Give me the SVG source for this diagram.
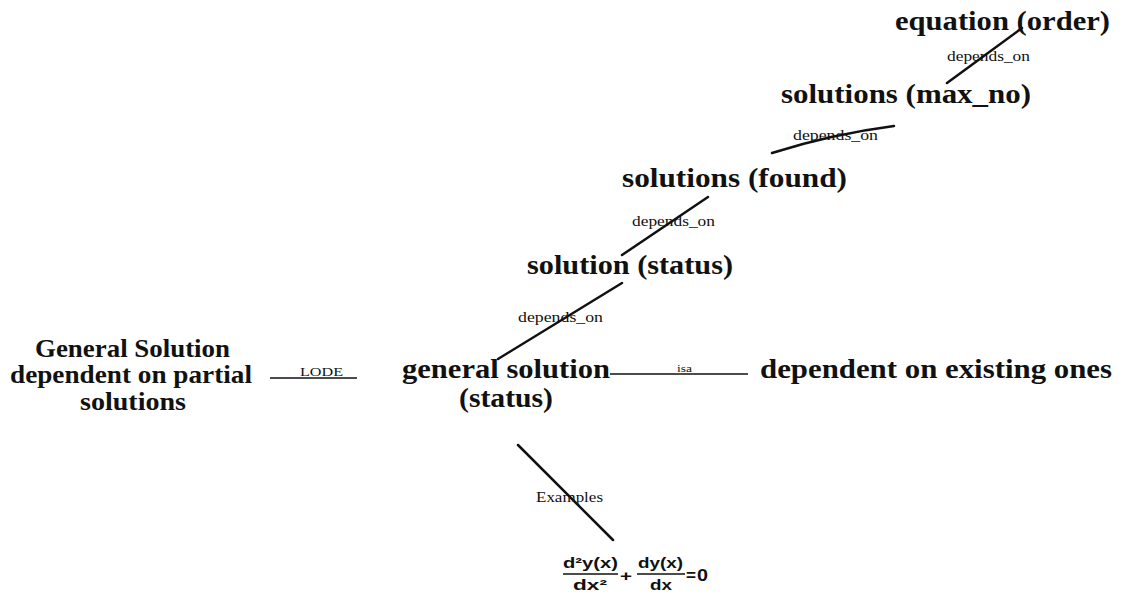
<svg xmlns="http://www.w3.org/2000/svg" width="1121" height="596" viewBox="0 0 1121 596">
<style>
.node{font-family:"Liberation Serif","Times New Roman",serif;font-weight:bold;font-size:27px;fill:#111}
.left{font-size:25px}
.lbl{font-family:"Liberation Serif","Times New Roman",serif;font-size:15px;fill:#111}
.edge{stroke:#111;stroke-width:2.5;fill:none;stroke-linecap:round}
.thin{stroke:#111;stroke-width:1.6;fill:none}
.math{font-family:"Liberation Sans",Arial,sans-serif;font-weight:bold;font-size:15px;fill:#111}
</style>
<rect width="1121" height="596" fill="#fff"/>
<g id="connectors">
  <line class="edge" x1="1022" y1="28" x2="947" y2="83"/>
  <text class="lbl" x="947" y="61" textLength="83" lengthAdjust="spacingAndGlyphs">depends_on</text>
  <path class="edge" d="M772 153 Q832 134 894 126"/>
  <text class="lbl" x="793" y="140" textLength="85" lengthAdjust="spacingAndGlyphs">depends_on</text>
  <line class="edge" x1="708" y1="197" x2="622" y2="255"/>
  <text class="lbl" x="632" y="226" textLength="83" lengthAdjust="spacingAndGlyphs">depends_on</text>
  <line class="edge" x1="622" y1="283" x2="498" y2="359"/>
  <text class="lbl" x="518" y="322" textLength="85" lengthAdjust="spacingAndGlyphs">depends_on</text>
  <line class="thin" x1="270" y1="378" x2="357" y2="378"/>
  <text class="lbl" x="300" y="376" style="font-size:12px" textLength="43" lengthAdjust="spacingAndGlyphs">LODE</text>
  <line class="thin" x1="610" y1="374" x2="748" y2="374"/>
  <text class="lbl" x="677" y="372" style="font-size:11px" textLength="15" lengthAdjust="spacingAndGlyphs">isa</text>
  <line class="edge" x1="518" y1="445" x2="613" y2="540"/>
  <text class="lbl" x="536" y="502" textLength="67" lengthAdjust="spacingAndGlyphs">Examples</text>
</g>
<g id="node-equation-order">
  <text class="node" x="895" y="30" textLength="215" lengthAdjust="spacingAndGlyphs">equation (order)</text>
</g>
<g id="node-solutions-max-no">
  <text class="node" x="781" y="103" textLength="250" lengthAdjust="spacingAndGlyphs">solutions (max_no)</text>
</g>
<g id="node-solutions-found">
  <text class="node" x="622" y="187" textLength="225" lengthAdjust="spacingAndGlyphs">solutions (found)</text>
</g>
<g id="node-solution-status">
  <text class="node" x="527" y="274" textLength="206" lengthAdjust="spacingAndGlyphs">solution (status)</text>
</g>
<g id="node-general-solution-status">
  <text class="node" x="402" y="378" textLength="208" lengthAdjust="spacingAndGlyphs">general solution</text>
  <text class="node" x="459" y="407" textLength="94" lengthAdjust="spacingAndGlyphs">(status)</text>
</g>
<g id="node-dependent-existing">
  <text class="node" x="760" y="378" textLength="352" lengthAdjust="spacingAndGlyphs">dependent on existing ones</text>
</g>
<g id="node-general-solution-partial">
  <text class="node left" x="35" y="357" textLength="195" lengthAdjust="spacingAndGlyphs">General Solution</text>
  <text class="node left" x="10" y="383" textLength="242" lengthAdjust="spacingAndGlyphs">dependent on partial</text>
  <text class="node left" x="80" y="410" textLength="106" lengthAdjust="spacingAndGlyphs">solutions</text>
</g>
<g id="node-example-equation">
  <text class="math" x="563" y="568" textLength="55" lengthAdjust="spacingAndGlyphs">d²y(x)</text>
  <line class="thin" x1="563" y1="574" x2="618" y2="574"/>
  <text class="math" x="573" y="590" textLength="34" lengthAdjust="spacingAndGlyphs">dx²</text>
  <text class="math" x="620" y="581" textLength="12" lengthAdjust="spacingAndGlyphs">+</text>
  <text class="math" x="638" y="568" textLength="45" lengthAdjust="spacingAndGlyphs">dy(x)</text>
  <line class="thin" x1="637" y1="574" x2="685" y2="574"/>
  <text class="math" x="650" y="590" textLength="22" lengthAdjust="spacingAndGlyphs">dx</text>
  <text class="math" x="686" y="581" style="font-size:16px" textLength="10" lengthAdjust="spacingAndGlyphs">=</text>
  <text class="math" x="697" y="581" style="font-size:16px" textLength="11" lengthAdjust="spacingAndGlyphs">0</text>
</g>
</svg>
